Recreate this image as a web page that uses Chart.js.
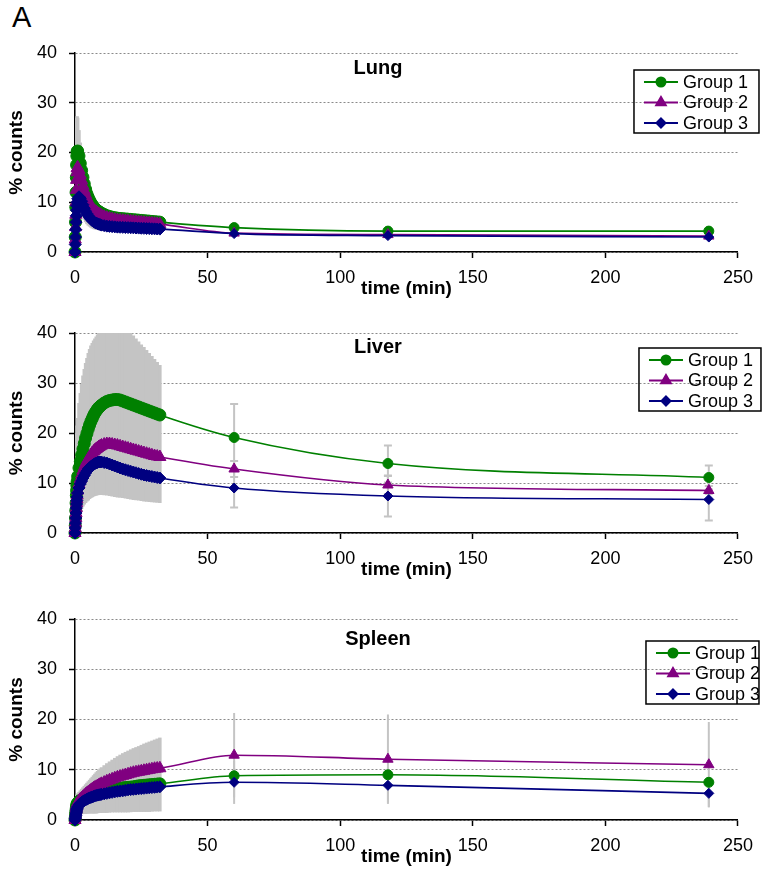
<!DOCTYPE html>
<html lang="en">
<head>
<meta charset="UTF-8">
<title>% counts vs time</title>
<script src="https://cdn.jsdelivr.net/npm/chart.js@4"></script>
<style>
  body { margin: 0; background: #fff; font-family: "Liberation Sans", Arial, sans-serif; }
  #wrap { position: relative; width: 762px; height: 883px; }
  canvas { position: absolute; left: 0; }
  #panelLabel { position: absolute; left: 12px; top: 1px; font-size: 29px; color: #000; }
</style>
</head>
<body>
<div id="wrap">
  <div id="panelLabel">A</div>
  <canvas id="lung" width="762" height="300" style="top:0"></canvas>
  <canvas id="liver" width="762" height="291" style="top:290px"></canvas>
  <canvas id="spleen" width="762" height="292" style="top:576px"></canvas>
</div>

<script>
// time points (min): dense sampling over the first 32 min, then 3 late points
const denseTime = [0, 0.1, 0.2, 0.3, 0.4, 0.5, 0.6, 0.7, 0.8, 1, 1.5, 2,
                   2.5, 3, 3.5, 4, 4.5, 5, 5.5, 6, 6.5, 7, 7.5, 8, 8.5, 9, 9.5, 10,
                   11, 12, 13, 14, 15, 16, 17, 18, 19, 20, 21, 22, 23, 24, 25, 26, 27, 28, 29, 30, 31, 32];
const lateTime = [60, 118, 239];

const groupNames = ['Group 1', 'Group 2', 'Group 3'];
const xTicks = [0, 50, 100, 150, 200, 250];
const yTicks = [0, 10, 20, 30, 40];

// ---- Lung ----
const lungG1 = [0, 3, 6, 9, 12, 15, 17.5, 19.3, 20.2, 20.3, 19.3, 17.8,
                16.4, 15, 13.7, 12.6, 11.7, 11, 10.4, 9.9, 9.5, 9.1, 8.8, 8.5, 8.3, 8.1, 7.95, 7.8,
                7.55, 7.3, 7.15, 7.0, 6.9, 6.8, 6.75, 6.7, 6.65, 6.6, 6.55, 6.5, 6.45, 6.4, 6.35, 6.3, 6.25, 6.2, 6.15, 6.1, 6.05, 6.0,
                4.9, 4.2, 4.2];
const lungG2 = [0, 2.5, 5, 7.5, 10, 12.5, 14.5, 16, 16.8, 17, 16.5, 15.5,
                14.4, 13.3, 12.3, 11.5, 10.8, 10.2, 9.7, 9.2, 8.8, 8.5, 8.2, 8, 7.8, 7.6, 7.45, 7.3,
                7.1, 6.9, 6.75, 6.6, 6.5, 6.4, 6.35, 6.3, 6.25, 6.2, 6.15, 6.1, 6.05, 6.0, 5.95, 5.9, 5.85, 5.8, 5.75, 5.7, 5.65, 5.6,
                3.8, 3.5, 3.2];
const lungG3 = [0, 1.5, 3, 4.5, 6, 7.3, 8.4, 9.3, 10, 10.7, 11.1, 10.8,
                10.2, 9.5, 8.8, 8.2, 7.7, 7.3, 6.9, 6.6, 6.3, 6.1, 5.95, 5.8, 5.7, 5.6, 5.5, 5.4,
                5.3, 5.2, 5.15, 5.1, 5.05, 5.0, 4.97, 4.95, 4.92, 4.9, 4.87, 4.85, 4.82, 4.8, 4.77, 4.75, 4.72, 4.7, 4.67, 4.65, 4.62, 4.6,
                3.7, 3.3, 3.0];
const lungBandHi = [0, 5, 10, 15, 20, 24, 26, 27, 27.3, 27, 24.5, 22,
                    20, 18, 16.4, 15, 13.9, 13, 12.2, 11.5, 10.9, 10.4, 10, 9.6, 9.3, 9, 8.8, 8.6,
                    8.3, 8, 7.8, 7.6, 7.45, 7.3, 7.2, 7.1, 7.05, 7, 6.95, 6.9, 6.85, 6.8, 6.75, 6.7, 6.65, 6.6, 6.55, 6.5, 6.45, 6.4];
const lungBandLo = [0, 0.5, 1, 2, 3, 4, 5, 6, 7, 8, 8.5, 8,
                    7.5, 7, 6.5, 6, 5.6, 5.3, 5.1, 4.9, 4.75, 4.6, 4.55, 4.5, 4.45, 4.4, 4.35, 4.3,
                    4.25, 4.2, 4.15, 4.1, 4.1, 4.1, 4.05, 4.0, 4.0, 4.0, 4.0, 4.0, 3.95, 3.9, 3.9, 3.9, 3.9, 3.9, 3.85, 3.8, 3.8, 3.8];
const lungErrLo = [[4.4, 3.8, 3.8], [3.4, 3.1, 2.8], [3.3, 2.9, 2.6]];
const lungErrHi = [[5.4, 4.6, 4.6], [4.2, 3.9, 3.6], [4.1, 3.7, 3.4]];

// ---- Liver ----
const liverG1 = [0, 1.5, 3, 4.5, 6, 7.5, 8.5, 9.5, 10.3, 11.3, 13, 14.3,
                 15.6, 16.8, 17.9, 19, 19.9, 20.8, 21.6, 22.3, 22.9, 23.5, 24, 24.4, 24.8, 25.1, 25.35, 25.6,
                 26.0, 26.3, 26.5, 26.6, 26.7, 26.7, 26.6, 26.4, 26.2, 26.0, 25.8, 25.6, 25.4, 25.2, 25.0, 24.8, 24.6, 24.4, 24.2, 24.0, 23.8, 23.6,
                 19.1, 13.9, 11.1];
const liverG2 = [0, 1, 2, 3, 4, 5, 6, 6.8, 7.5, 8.5, 9.8, 10.8,
                 11.7, 12.5, 13.2, 13.8, 14.3, 14.8, 15.2, 15.6, 16, 16.3, 16.55, 16.8, 17, 17.2, 17.35, 17.5,
                 17.7, 17.8, 17.8, 17.7, 17.6, 17.5, 17.35, 17.2, 17.05, 16.9, 16.75, 16.6, 16.45, 16.3, 16.15, 16.0, 15.85, 15.7, 15.55, 15.4, 15.3, 15.2,
                 12.8, 9.6, 8.5];
const liverG3 = [0, 1, 2, 3, 4, 5, 5.8, 6.5, 7.2, 8, 9, 9.8,
                 10.4, 11, 11.5, 12, 12.4, 12.8, 13.05, 13.3, 13.5, 13.7, 13.85, 14, 14.1, 14.2, 14.2, 14.2,
                 14.1, 14.0, 13.8, 13.6, 13.4, 13.2, 13.0, 12.8, 12.65, 12.5, 12.35, 12.2, 12.05, 11.9, 11.75, 11.6, 11.5, 11.4, 11.3, 11.2, 11.1, 11.0,
                 9.0, 7.4, 6.7];
const liverBandHi = [0, 4, 8, 11, 14, 16, 18, 20, 21.5, 23, 26, 28,
                     29.8, 31.5, 32.8, 34, 35, 36, 36.8, 37.5, 38, 38.5, 38.9, 39.3, 39.7, 40, 40.5, 41,
                     41, 41, 41, 41, 41, 41, 41, 41, 40.8, 40.5, 40, 39.5, 38.9, 38.3, 37.7, 37.2, 36.6, 36, 35.4, 34.8, 34.2, 33.6];
const liverBandLo = [0, 0, 0.3, 0.6, 1, 1.3, 1.6, 2, 2.3, 2.8, 3.5, 4.3,
                     4.8, 5.3, 5.7, 6, 6.3, 6.5, 6.8, 7, 7.15, 7.3, 7.4, 7.5, 7.55, 7.6, 7.6, 7.6,
                     7.55, 7.5, 7.4, 7.3, 7.2, 7.1, 7.05, 7.0, 6.9, 6.8, 6.7, 6.6, 6.55, 6.5, 6.4, 6.3, 6.25, 6.2, 6.15, 6.1, 6.05, 6.0];
const liverErrLo = [[12.4, 10.1, 8.7], [11.2, 7.8, 7.8], [5.1, 3.3, 2.5]];
const liverErrHi = [[25.8, 17.5, 13.5], [14.4, 11.4, 9.4], [12.9, 11.5, 11.1]];

// ---- Spleen ----
const spleenG1 = [0, 0.5, 1, 1.5, 2, 2.4, 2.7, 3, 3.2, 3.4, 3.7, 3.9,
                  4.05, 4.2, 4.35, 4.5, 4.6, 4.7, 4.8, 4.9, 5.0, 5.1, 5.2, 5.3, 5.35, 5.4, 5.45, 5.5,
                  5.65, 5.8, 5.9, 6.0, 6.1, 6.2, 6.3, 6.4, 6.45, 6.5, 6.55, 6.6, 6.7, 6.8, 6.85, 6.9, 6.95, 7.0, 7.05, 7.1, 7.15, 7.2,
                  8.8, 9.0, 7.5];
const spleenG2 = [0, 0.5, 1, 1.5, 2, 2.4, 2.7, 3, 3.2, 3.4, 3.8, 4.1,
                  4.35, 4.6, 4.85, 5.1, 5.3, 5.5, 5.7, 5.9, 6.1, 6.3, 6.45, 6.6, 6.75, 6.9, 7.05, 7.2,
                  7.45, 7.7, 7.9, 8.1, 8.3, 8.5, 8.65, 8.8, 8.95, 9.1, 9.25, 9.4, 9.5, 9.6, 9.7, 9.8, 9.9, 10.0, 10.1, 10.2, 10.25, 10.3,
                  12.9, 12.1, 11.0];
const spleenG3 = [0, 0.3, 0.6, 0.9, 1.2, 1.5, 1.8, 2.1, 2.3, 2.6, 3.0, 3.3,
                  3.5, 3.7, 3.85, 4.0, 4.15, 4.3, 4.4, 4.5, 4.6, 4.7, 4.8, 4.9, 4.95, 5.0, 5.05, 5.1,
                  5.2, 5.3, 5.4, 5.5, 5.6, 5.7, 5.75, 5.8, 5.9, 6.0, 6.05, 6.1, 6.15, 6.2, 6.25, 6.3, 6.35, 6.4, 6.45, 6.5, 6.55, 6.6,
                  7.5, 6.9, 5.3];
const spleenBandHi = [0, 1, 2, 3, 3.7, 4.2, 4.6, 4.9, 5.1, 5.3, 5.6, 5.9,
                      6.2, 6.5, 6.8, 7.1, 7.4, 7.7, 8.0, 8.3, 8.6, 8.9, 9.2, 9.5, 9.75, 10.0, 10.25, 10.5,
                      10.9, 11.3, 11.65, 12.0, 12.35, 12.7, 13.0, 13.3, 13.55, 13.8, 14.05, 14.3, 14.5, 14.7, 14.95, 15.2, 15.4, 15.6, 15.8, 16.0, 16.2, 16.4];
const spleenBandLo = [0, 0, 0, 0.2, 0.4, 0.6, 0.7, 0.8, 0.9, 1.0, 1.1, 1.1,
                      1.15, 1.2, 1.2, 1.2, 1.25, 1.3, 1.3, 1.3, 1.3, 1.3, 1.3, 1.3, 1.35, 1.4, 1.4, 1.4,
                      1.4, 1.4, 1.45, 1.5, 1.5, 1.5, 1.5, 1.5, 1.5, 1.5, 1.55, 1.6, 1.6, 1.6, 1.6, 1.6, 1.6, 1.6, 1.65, 1.7, 1.7, 1.7];
const spleenErrLo = [[7.5, 8.0, 6.5], [4.5, 3.2, 2.5], [3.2, 3.4, 2.6]];
const spleenErrHi = [[10.3, 10.0, 8.5], [21.3, 21.0, 19.5], [11.8, 10.4, 8.0]];

// styles
const groupColors = ['#008000', '#800080', '#000080'];
const groupMarkers = ['circle', 'triangle', 'rectRot'];
const groupRadius = [5, 6, 5];
const FONT = '"Liberation Sans", Arial, sans-serif';

const allTime = denseTime.concat(lateTime);

// gray error bars: dense band + late bars (drawn behind the lines)
const errorBars = {
  id: 'errorBars',
  beforeDatasetsDraw(chart, args, opts) {
    const { ctx, chartArea: a, scales: { x, y } } = chart;
    ctx.save();
    ctx.beginPath();
    ctx.rect(a.left, a.top, a.right - a.left, a.bottom - a.top);
    ctx.clip();
    ctx.strokeStyle = opts.color;
    ctx.lineWidth = opts.bandWidth;
    denseTime.forEach((t, i) => {
      const px = x.getPixelForValue(t);
      ctx.beginPath();
      ctx.moveTo(px, y.getPixelForValue(opts.bandLo[i]));
      ctx.lineTo(px, y.getPixelForValue(opts.bandHi[i]));
      ctx.stroke();
    });
    ctx.lineWidth = opts.barWidth;
    opts.lo.forEach((los, g) => {
      los.forEach((lo, i) => {
        const px = x.getPixelForValue(lateTime[i]);
        const y1 = y.getPixelForValue(lo), y2 = y.getPixelForValue(opts.hi[g][i]);
        ctx.beginPath();
        ctx.moveTo(px, y1); ctx.lineTo(px, y2);
        if (opts.cap) {
          ctx.moveTo(px - opts.cap, y1); ctx.lineTo(px + opts.cap, y1);
          ctx.moveTo(px - opts.cap, y2); ctx.lineTo(px + opts.cap, y2);
        }
        ctx.stroke();
      });
    });
    ctx.restore();
  }
};

// organ name inside the plot area + boxed legend
const panelDecor = {
  id: 'panelDecor',
  afterDraw(chart, args, opts) {
    const { ctx, chartArea: a } = chart;
    ctx.save();
    ctx.fillStyle = '#000';
    ctx.font = 'bold 20px ' + FONT;
    ctx.textAlign = 'center';
    ctx.textBaseline = 'middle';
    ctx.fillText(opts.title, a.left + opts.titleDx, a.top + opts.titleDy);

    const bx = a.right + opts.legDx, by = a.top + opts.legDy;
    ctx.strokeStyle = '#000';
    ctx.lineWidth = 1.5;
    ctx.strokeRect(bx, by, opts.legW, 63);
    ctx.font = '18px ' + FONT;
    ctx.textAlign = 'left';
    chart.data.datasets.forEach((ds, i) => {
      const cy = by + 12 + i * 20.5;
      ctx.strokeStyle = ds.borderColor;
      ctx.lineWidth = 2;
      ctx.beginPath();
      ctx.moveTo(bx + 10, cy); ctx.lineTo(bx + 44, cy);
      ctx.stroke();
      ctx.fillStyle = ds.borderColor;
      Chart.helpers.drawPoint(ctx, { pointStyle: ds.pointStyle, radius: groupRadius[i] - 0.5, borderWidth: 1, rotation: 0 }, bx + 27, cy);
      ctx.fillStyle = '#000';
      ctx.fillText(ds.label, bx + 49, cy + 1);
    });
    ctx.restore();
  }
};

function makePanel(id, title, series, bandLo, bandHi, errLo, errHi, look) {
  const datasets = series.map((vals, g) => ({
    label: groupNames[g],
    data: allTime.map((t, i) => ({ x: t, y: vals[i] })),
    borderColor: groupColors[g],
    backgroundColor: groupColors[g],
    borderWidth: 1.6,
    pointStyle: groupMarkers[g],
    // the densely sampled points overlap into a thick band
    pointRadius: c => (c.dataIndex < denseTime.length ? groupRadius[g] + 1 : groupRadius[g]),
    pointBorderWidth: 1,
    cubicInterpolationMode: 'monotone',
    order: 3 - g,
    clip: false
  }));

  return new Chart(document.getElementById(id), {
    type: 'line',
    data: { datasets },
    plugins: [errorBars, panelDecor],
    options: {
      responsive: false,
      animation: false,
      devicePixelRatio: 1,
      layout: { padding: { top: look.padTop, right: 24, left: 0, bottom: 0 } },
      plugins: {
        legend: { display: false },
        tooltip: { enabled: false },
        errorBars: { bandLo, bandHi, lo: errLo, hi: errHi, color: '#c4c4c4', bandWidth: 3.5, barWidth: 2, cap: look.cap },
        panelDecor: { title, titleDx: 303, titleDy: look.titleDy, legDx: look.legDx, legDy: look.legDy, legW: look.legW }
      },
      scales: {
        x: {
          type: 'linear', min: 0, max: 250,
          afterFit: s => { s.height = 48; },
          afterBuildTicks: s => { s.ticks = xTicks.map(v => ({ value: v })); },
          ticks: { color: '#000', font: { family: FONT, size: 18 }, padding: 9, maxRotation: 0 },
          grid: { drawOnChartArea: false, drawTicks: true, tickLength: 6, tickColor: '#000', tickWidth: 1.5 },
          border: { display: true, color: '#000', width: 1.5 },
          title: { display: true, text: 'time (min)', color: '#000', font: { family: FONT, size: 19, weight: 'bold' }, padding: { top: 0, bottom: 0 } }
        },
        y: {
          min: 0, max: 40,
          afterFit: s => { s.width = 75; },
          afterBuildTicks: s => { s.ticks = yTicks.map(v => ({ value: v })); },
          ticks: { color: '#000', font: { family: FONT, size: 18 }, padding: 12 },
          grid: { color: '#8a8a8a', lineWidth: 1, drawTicks: true, tickLength: 6, tickColor: '#000', tickWidth: 1.5, tickBorderDash: [] },
          border: { display: true, color: '#000', width: 1.5, dash: [2, 2] },
          title: { display: true, text: '% counts', color: '#000', font: { family: FONT, size: 19, weight: 'bold' }, padding: { top: 5, bottom: 0 } }
        }
      }
    }
  });
}

makePanel('lung', 'Lung', [lungG1, lungG2, lungG3], lungBandLo, lungBandHi, lungErrLo, lungErrHi,
  { padTop: 53, titleDy: 15, legDx: -104, legDy: 17, legW: 125, cap: 0 });
makePanel('liver', 'Liver', [liverG1, liverG2, liverG3], liverBandLo, liverBandHi, liverErrLo, liverErrHi,
  { padTop: 43, titleDy: 14, legDx: -99, legDy: 15, legW: 122, cap: 4 });
makePanel('spleen', 'Spleen', [spleenG1, spleenG2, spleenG3], spleenBandLo, spleenBandHi, spleenErrLo, spleenErrHi,
  { padTop: 43, titleDy: 20, legDx: -92, legDy: 22, legW: 113, cap: 0 });
</script>
</body>
</html>
